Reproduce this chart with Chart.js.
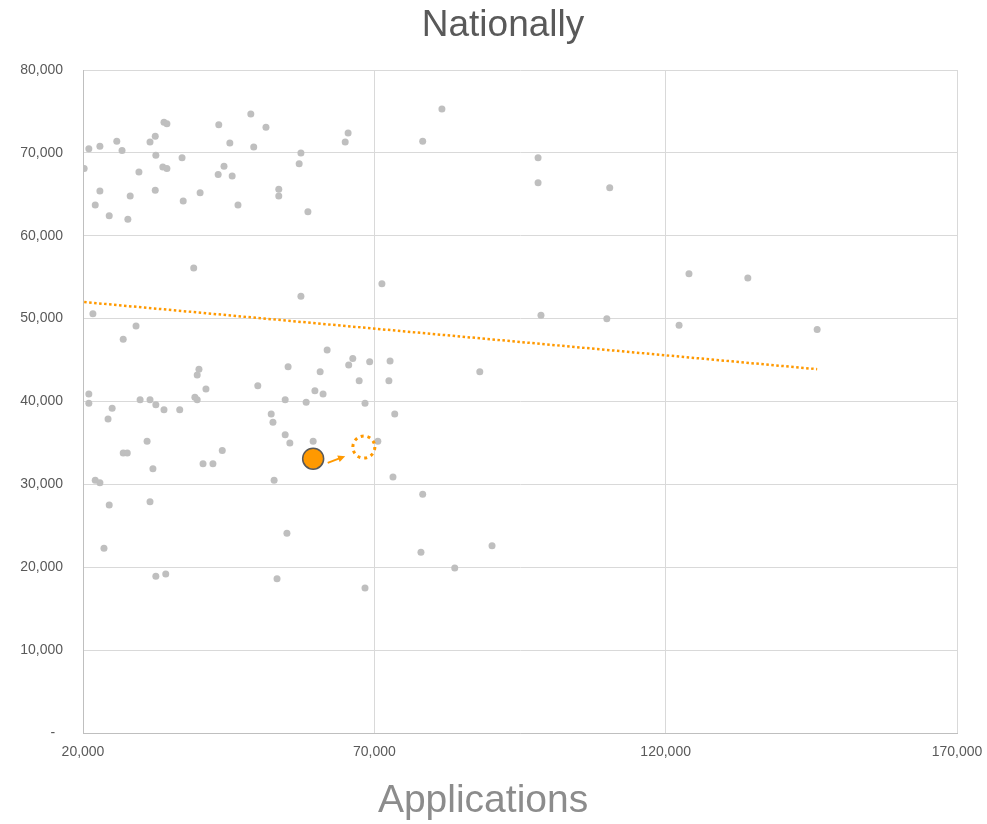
<!DOCTYPE html>
<html>
<head>
<meta charset="utf-8">
<title>Nationally</title>
<script src="https://cdn.jsdelivr.net/npm/chart.js@4.4.1/dist/chart.umd.min.js"></script>
<style>
    html, body { margin: 0; padding: 0; background: #ffffff; }
    #wrap { width: 987px; height: 824px; }
</style>
</head>
<body>
<div id="wrap"><canvas id="nationalChart"></canvas></div>
<script>
// Valores (eixo x = Applications)
const applications = [
    20200, 21000, 22900, 22100, 22900, 24500, 25800, 26700, 27700, 28100,
    29600, 31500, 32400, 32500, 32400, 33700, 34400, 33900, 34400, 37000,
    37200, 39000, 40100, 43300, 43200, 44200, 45200, 45600, 46600, 48800,
    49300, 51400, 53600, 53600, 57400, 57100, 58600, 57400, 65000, 65500,
    21700, 29100, 26900, 81600, 78300, 98100, 98100, 110400, 71300, 124000,
    134100, 98600, 109900, 122300, 146000, 72700, 72500, 88100, 69200, 73500,
    70600, 73200, 78300, 78000, 83800, 90200, 21000, 21000, 25000, 24300,
    29800, 31500, 32500, 33900, 36600, 31000, 26900, 27600, 32000, 22100,
    22900, 24500, 31500, 23600, 32500, 34200, 39900, 39600, 39200, 39600,
    41100, 40600, 42300, 43900, 50000, 52300, 52600, 52800, 54700, 55200,
    54700, 55500, 55000, 53300, 59500, 58300, 59800, 61200, 60700, 61900,
    65600, 66300, 67400, 68400, 68400
];
const values = [
    68100, 70500, 70800, 63700, 65400, 62400, 71400, 70300, 62000, 64800,
    67700, 71300, 72000, 69700, 65500, 68300, 68100, 73700, 73500, 69400,
    64200, 56100, 65200, 73400, 67400, 68400, 71200, 67200, 63700, 74700,
    70700, 73100, 65600, 64800, 70000, 68700, 62900, 52700, 71300, 72400,
    50600, 49100, 47500, 75300, 71400, 69400, 66400, 65800, 54200, 55400,
    54900, 50400, 50000, 49200, 48700, 44900, 42500, 43600, 44800, 38500,
    35200, 30900, 28800, 21800, 19900, 22600, 40900, 39800, 39200, 37900,
    40200, 40200, 39600, 39000, 39000, 35200, 33800, 33800, 31900, 30500,
    30200, 27500, 27900, 22300, 18900, 19200, 43900, 43200, 40500, 40200,
    41500, 32500, 32500, 34100, 41900, 38500, 37500, 30500, 40200, 44200,
    36000, 35000, 24100, 18600, 35200, 39900, 41300, 40900, 43600, 46200,
    44400, 45200, 42500, 39800, 17500
];

// Linha de tendência
const trendX = [20200, 146000];
const trendY = [52000, 43900];

// Ponto destacado, posição alvo e seta
const highlightX = [59500];
const highlightY = [33100];
const targetX = [68200];
const targetY = [34500];
const arrowX = [62000, 65000];
const arrowY = [32600, 33400];

const xTicks = [20000, 70000, 120000, 170000];
const xTickLabels = ['20,000', '70,000', '120,000', '170,000'];
const yTicks = [0, 10000, 20000, 30000, 40000, 50000, 60000, 70000, 80000];
const yTickLabels = ['-  ', '10,000', '20,000', '30,000', '40,000', '50,000', '60,000', '70,000', '80,000'];

const ORANGE = '#FF9900';
const FONT = '"Liberation Sans", Arial, sans-serif';

function toPoints(xs, ys) {
    return xs.map((x, i) => ({ x: x, y: ys[i] }));
}

// Plugin para o círculo pontilhado, a seta e o título do eixo x
const markersPlugin = {
    id: 'markers',
    afterDatasetsDraw(chart) {
        const { ctx } = chart;
        const xs = chart.scales.x;
        const ys = chart.scales.y;
        ctx.save();

        // círculo pontilhado
        const cx = xs.getPixelForValue(targetX[0]);
        const cy = ys.getPixelForValue(targetY[0]);
        ctx.strokeStyle = ORANGE;
        ctx.lineWidth = 3;
        ctx.setLineDash([3, 3.9]);
        ctx.beginPath();
        ctx.arc(cx, cy, 11, 0, Math.PI * 2);
        ctx.stroke();

        // seta
        const x1 = xs.getPixelForValue(arrowX[0]);
        const y1 = ys.getPixelForValue(arrowY[0]);
        const x2 = xs.getPixelForValue(arrowX[1]);
        const y2 = ys.getPixelForValue(arrowY[1]);
        const ang = Math.atan2(y2 - y1, x2 - x1);
        const headLen = 8;
        ctx.setLineDash([]);
        ctx.lineWidth = 2;
        ctx.beginPath();
        ctx.moveTo(x1, y1);
        ctx.lineTo(x2 - Math.cos(ang) * headLen * 0.6, y2 - Math.sin(ang) * headLen * 0.6);
        ctx.stroke();
        ctx.fillStyle = ORANGE;
        ctx.beginPath();
        ctx.moveTo(x2, y2);
        ctx.lineTo(x2 - headLen * Math.cos(ang - 0.45), y2 - headLen * Math.sin(ang - 0.45));
        ctx.lineTo(x2 - headLen * Math.cos(ang + 0.45), y2 - headLen * Math.sin(ang + 0.45));
        ctx.closePath();
        ctx.fill();
        ctx.restore();
    },
    afterDraw(chart) {
        const { ctx, chartArea } = chart;
        ctx.save();
        ctx.font = '39px ' + FONT;
        ctx.fillStyle = '#8c8c8c';
        ctx.textAlign = 'center';
        ctx.textBaseline = 'middle';
        ctx.fillText('Applications', chartArea.left + chartArea.width * 0.4577, 801);
        ctx.restore();
    }
};

Chart.defaults.font.family = FONT;
Chart.defaults.font.size = 14;
Chart.defaults.color = '#595959';

new Chart(document.getElementById('nationalChart').getContext('2d'), {
    type: 'scatter',
    data: {
        datasets: [
            {
                label: 'Destaque',
                data: toPoints(highlightX, highlightY),
                pointRadius: 10.5,
                pointBackgroundColor: ORANGE,
                pointBorderColor: '#595959',
                pointBorderWidth: 1.5,
                order: 0
            },
            {
                label: 'Tendência',
                type: 'line',
                data: toPoints(trendX, trendY),
                showLine: true,
                pointRadius: 0,
                borderColor: ORANGE,
                borderWidth: 2.5,
                borderDash: [2.5, 2.5],
                fill: false,
                order: 1
            },
            {
                label: 'Nationally',
                data: toPoints(applications, values),
                pointRadius: 3.5,
                pointBackgroundColor: '#bfbfbf',
                pointBorderWidth: 0,
                order: 2
            }
        ]
    },
    options: {
        responsive: true,
        maintainAspectRatio: false,
        animation: false,
        events: [],
        layout: { padding: { left: 19, right: 0, top: 0, bottom: 0 } },
        plugins: {
            legend: { display: false },
            tooltip: { enabled: false },
            title: {
                display: true,
                text: 'Nationally',
                color: '#595959',
                font: { size: 37, weight: 'normal', family: FONT },
                padding: { top: 4, bottom: 21.6 }
            }
        },
        scales: {
            x: {
                type: 'linear',
                min: 20000,
                max: 170000,
                afterBuildTicks: (scale) => { scale.ticks = xTicks.map(v => ({ value: v })); },
                afterFit: (scale) => {
                    scale.height = 91;
                    scale.paddingLeft = 0;
                    scale.paddingRight = 0;
                },
                ticks: {
                    padding: 11,
                    maxRotation: 0,
                    callback: (value) => xTickLabels[xTicks.indexOf(value)]
                },
                grid: { color: '#d9d9d9', drawTicks: false },
                border: { color: '#bfbfbf', width: 1 }
            },
            y: {
                type: 'linear',
                position: 'left',
                min: 0,
                max: 80000,
                afterBuildTicks: (scale) => { scale.ticks = yTicks.map(v => ({ value: v })); },
                afterFit: (scale) => { scale.width = 64; },
                ticks: {
                    padding: 20,
                    callback: (value) => yTickLabels[yTicks.indexOf(value)]
                },
                grid: { color: '#d9d9d9', drawTicks: false },
                border: { color: '#bfbfbf', width: 1 }
            },
            // eixo vazio à direita, só para reservar a margem
            yMargin: {
                type: 'linear',
                position: 'right',
                display: true,
                afterFit: (scale) => { scale.width = 30; },
                ticks: { display: false },
                grid: { display: false, drawTicks: false },
                border: { display: false }
            }
        }
    },
    plugins: [markersPlugin]
});
</script>
</body>
</html>
